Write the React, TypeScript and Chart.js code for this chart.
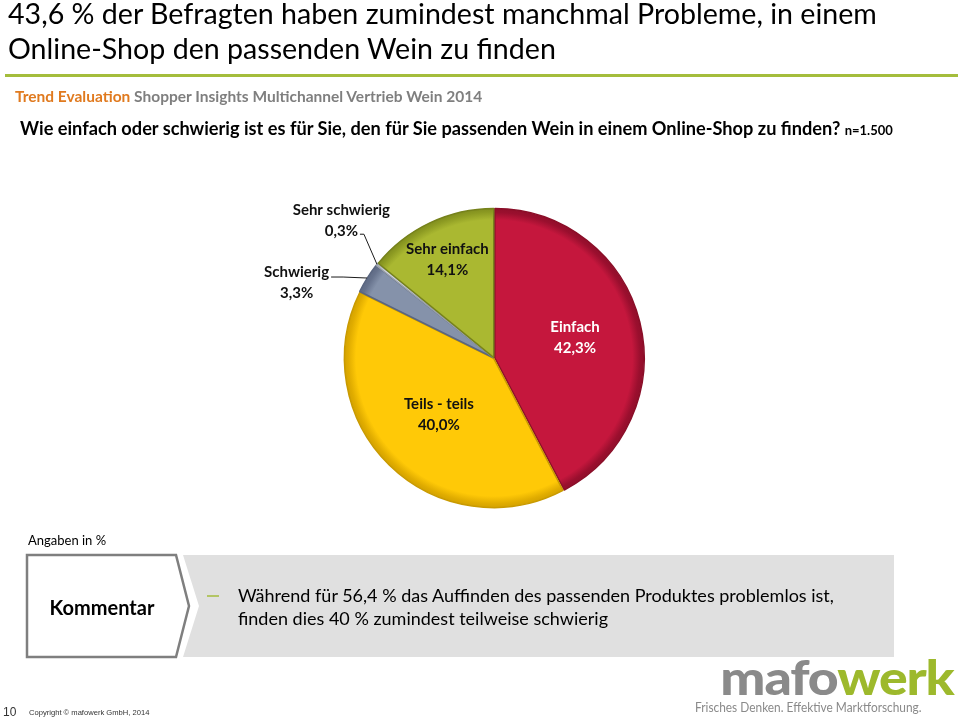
import React, { useEffect, useRef } from "react";
import { Chart, registerables } from "chart.js";

Chart.register(...registerables);

// ---- data ----
const categories = ["Einfach", "Teils - teils", "Schwierig", "Sehr schwierig", "Sehr einfach"];
const values = [42.3, 40.0, 3.3, 0.3, 14.1];
const sliceColors = ["#C5173D", "#FFC907", "#8592AA", "#D9DDE3", "#AAB831"];
const sliceRims = ["#9A0F2E", "#E0AC00", "#66728C", "#B5BAC2", "#8C9A22"];
const sliceBorders = ["#8A0E28", "#C99A00", "#5A6680", "#9AA0AA", "#76821B"];
const sliceOffsets = [3, 2, 2, 2, 2];

const fmt = (v: number) => v.toFixed(1).replace(".", ",") + "%";

type Place =
  | { type: "inside"; f: number; color: string }
  | { type: "outside"; dx: number; dy: number; tail: number; attach: number; textDy: number };

const labelPlacement: Place[] = [
  { type: "inside", f: 0.56, color: "#ffffff" },
  { type: "inside", f: 0.53, color: "#111111" },
  { type: "outside", dx: -24, dy: -1, tail: 12, attach: 0, textDy: -5 },
  { type: "outside", dx: -13, dy: -30, tail: 4, attach: 1, textDy: -3 },
  { type: "inside", f: 0.73, color: "#111111" },
];

const LABEL_FONT = "bold 15px Lato";
const LINE_GAP = 21;

const labelPlugin = {
  id: "sliceLabels",
  afterDatasetsDraw(chart: any) {
    const ctx = chart.ctx as CanvasRenderingContext2D;
    const meta = chart.getDatasetMeta(0);
    meta.data.forEach((arc: any, i: number) => {
      const { x, y, startAngle, endAngle, outerRadius } = arc.getProps(
        ["x", "y", "startAngle", "endAngle", "outerRadius"],
        true
      );
      const mid = (startAngle + endAngle) / 2;
      const c = Math.cos(mid);
      const s = Math.sin(mid);
      const place = labelPlacement[i];
      const lines = [categories[i], fmt(values[i])];
      ctx.save();
      ctx.font = LABEL_FONT;
      ctx.textBaseline = "middle";
      ctx.textAlign = "center";
      if (place.type === "inside") {
        const px = x + c * outerRadius * place.f;
        const py = y + s * outerRadius * place.f;
        ctx.fillStyle = place.color;
        ctx.fillText(lines[0], px, py - LINE_GAP / 2);
        ctx.fillText(lines[1], px, py + LINE_GAP / 2);
      } else {
        const ex = x + c * (outerRadius + 1);
        const ey = y + s * (outerRadius + 1);
        const bx = ex + place.dx;
        const by = ey + place.dy;
        const tx = bx - place.tail;
        ctx.strokeStyle = "#1a1a1a";
        ctx.lineWidth = 1;
        ctx.beginPath();
        ctx.moveTo(ex, ey);
        ctx.lineTo(bx, by);
        ctx.lineTo(tx, by);
        ctx.stroke();
        const w = ctx.measureText(lines[place.attach]).width;
        const cx = tx - 2 - w / 2;
        const ly = by + place.textDy;
        ctx.fillStyle = "#111111";
        if (place.attach === 0) {
          ctx.fillText(lines[0], cx, ly);
          ctx.fillText(lines[1], cx, ly + LINE_GAP);
        } else {
          ctx.fillText(lines[0], cx, ly - LINE_GAP);
          ctx.fillText(lines[1], cx, ly);
        }
      }
      ctx.restore();
    });
  },
};

const W = 960;
const H = 722;
const CX = 494;
const CY = 358;
const R = 149;
const HALF = 170;

export default function App() {
  const ref = useRef<HTMLCanvasElement>(null);
  useEffect(() => {
    if (!ref.current) return;
    const rimFill = (sc: any) => {
      const i = sc.dataIndex;
      const area = sc.chart.chartArea;
      if (!area) return sliceColors[i];
      const cx = (area.left + area.right) / 2;
      const cy = (area.top + area.bottom) / 2;
      const g = sc.chart.ctx.createRadialGradient(cx, cy, 0, cx, cy, R + 4);
      g.addColorStop(0, sliceColors[i]);
      g.addColorStop(0.9, sliceColors[i]);
      g.addColorStop(0.95, sliceRims[i]);
      g.addColorStop(1, sliceBorders[i]);
      return g;
    };
    const chart = new Chart(ref.current, {
      type: "pie",
      data: {
        labels: categories,
        datasets: [
          {
            data: values,
            backgroundColor: rimFill,
            borderColor: sliceBorders,
            borderWidth: 1.5,
            offset: sliceOffsets,
            radius: R,
          } as any,
        ],
      },
      options: {
        responsive: false,
        animation: false,
        layout: {
          padding: {
            left: CX - HALF,
            right: W - (CX + HALF),
            top: CY - HALF,
            bottom: H - (CY + HALF),
          },
        },
        plugins: {
          legend: { display: false },
          tooltip: { enabled: false },
        },
      },
      plugins: [labelPlugin],
    });
    return () => chart.destroy();
  }, []);

  const font = "Lato, 'Noto Sans', sans-serif";
  const abs = (o: React.CSSProperties): React.CSSProperties => ({
    position: "absolute",
    whiteSpace: "nowrap",
    fontFamily: font,
    ...o,
  });

  return (
    <div style={{ position: "absolute", left: 0, top: 0, width: W, height: H, background: "#fff", overflow: "hidden" }}>
      <svg width={W} height={H} style={{ position: "absolute", left: 0, top: 0 }}>
        <polygon points="183,555 894,555 894,657 183,657 199,606" fill="#E0E0E0" />
        <polygon points="27,555 176,555 189,606 176,657 27,657" fill="#ffffff" stroke="#7F7F7F" strokeWidth={2.5} />
        <line x1={207} y1={596} x2={219} y2={596} stroke="#A4BD3C" strokeWidth={1.5} />
      </svg>
      <canvas ref={ref} width={W} height={H} style={{ position: "absolute", left: 0, top: 0 }} />
      <div style={abs({ left: 8, top: -4, fontSize: 28.6, lineHeight: "35px", color: "#000" })}>
        43,6 % der Befragten haben zumindest manchmal Probleme, in einem
        <br />
        Online-Shop den passenden Wein zu finden
      </div>
      <div style={{ position: "absolute", left: 5, top: 74, width: 953, height: 3, background: "#A4BD3C" }} />
      <div style={abs({ left: 15, top: 87, fontSize: 15.5, fontWeight: 700, lineHeight: "18px", color: "#7F7F7F" })}>
        <span style={{ color: "#E07A1F" }}>Trend Evaluation</span> Shopper Insights Multichannel Vertrieb Wein 2014
      </div>
      <div style={abs({ left: 20, top: 117, fontSize: 18.2, fontWeight: 700, lineHeight: "22px", color: "#000" })}>
        Wie einfach oder schwierig ist es für Sie, den für Sie passenden Wein in einem Online-Shop zu finden?{" "}
        <span style={{ fontSize: 13 }}>n=1.500</span>
      </div>
      <div style={abs({ left: 28, top: 532, fontSize: 13, lineHeight: "16px", color: "#000" })}>Angaben in %</div>
      <div style={abs({ left: 27, top: 595, width: 150, textAlign: "center", fontSize: 20, fontWeight: 700, lineHeight: "24px", color: "#000" })}>
        Kommentar
      </div>
      <div style={abs({ left: 238, top: 584, fontSize: 18, lineHeight: "23px", color: "#000" })}>
        Während für 56,4 % das Auffinden des passenden Produktes problemlos ist,
        <br />
        finden dies 40 % zumindest teilweise schwierig
      </div>
      <div style={abs({ left: 3, top: 705, fontSize: 12, lineHeight: "14px", color: "#333", fontFamily: "'Liberation Sans', Arial, sans-serif" })}>10</div>
      <div style={abs({ left: 29, top: 708, fontSize: 7.6, lineHeight: "10px", color: "#333", fontFamily: "'Liberation Sans', Arial, sans-serif" })}>
        Copyright © mafowerk GmbH, 2014
      </div>
      <div
        style={abs({
          right: 6,
          top: 652,
          fontSize: 47,
          fontWeight: 900,
          lineHeight: "50px",
          letterSpacing: -1,
          transform: "scaleX(1.14)",
          transformOrigin: "right center",
        })}
      >
        <span style={{ color: "#8A8A8A" }}>mafo</span>
        <span style={{ color: "#9DB92C" }}>werk</span>
      </div>
      <div
        style={abs({
          left: 695,
          top: 699,
          fontSize: 13.5,
          lineHeight: "16px",
          color: "#8A8A8A",
          transform: "scaleX(0.88)",
          transformOrigin: "left center",
        })}
      >
        Frisches Denken. Effektive Marktforschung.
      </div>
    </div>
  );
}
